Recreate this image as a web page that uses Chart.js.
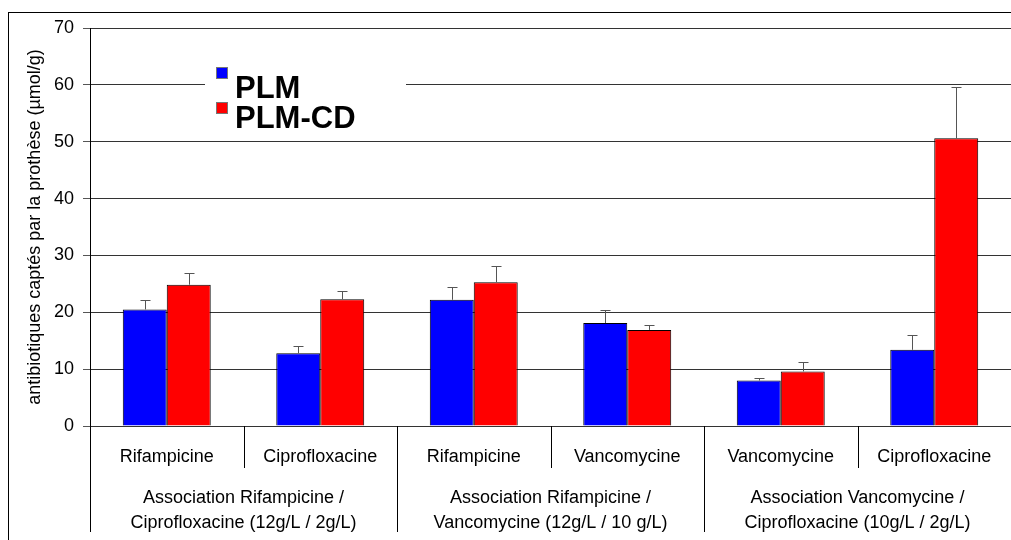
<!DOCTYPE html>
<html>
<head>
<meta charset="utf-8">
<script src="https://cdn.jsdelivr.net/npm/chart.js@4/dist/chart.umd.min.js"></script>
<style>
    html, body { margin: 0; padding: 0; background: #fff; }
    #wrap { width: 1011px; height: 540px; position: relative; }
</style>
</head>
<body>
<div id="wrap"><canvas id="chart"></canvas></div>
<script>
const categories = ["Rifampicine", "Ciprofloxacine", "Rifampicine", "Vancomycine", "Vancomycine", "Ciprofloxacine"];
const groupLabels = [
    ["Association Rifampicine /", "Ciprofloxacine (12g/L / 2g/L)"],
    ["Association Rifampicine /", "Vancomycine (12g/L / 10 g/L)"],
    ["Association Vancomycine /", "Ciprofloxacine (10g/L / 2g/L)"],
];
const plmValues = [20.5, 12.8, 22.2, 18.1, 8.0, 13.4];
const plmErrors = [1.7, 1.2, 2.3, 2.3, 0.5, 2.6];
const plmCdValues = [24.85, 22.3, 25.3, 16.9, 9.6, 50.6];
const plmCdErrors = [2.0, 1.4, 2.9, 0.9, 1.7, 9.1];
const yTicks = [0, 10, 20, 30, 40, 50, 60, 70];

const FONT = "'Liberation Sans', Arial, sans-serif";

const frame = {
    id: "frame",
    beforeDraw(chart) {
        const ctx = chart.ctx;
        ctx.save();
        ctx.fillStyle = "#fff";
        ctx.fillRect(0, 0, chart.width, chart.height);
        ctx.strokeStyle = "#000";
        ctx.lineWidth = 1;
        ctx.strokeRect(8.5, 12.5, chart.width + 10, chart.height + 10);
        ctx.restore();
    },
};

const errorBars = {
    id: "errorBars",
    afterDatasetsDraw(chart) {
        const ctx = chart.ctx;
        const y = chart.scales.y;
        const errs = [plmErrors, plmCdErrors];
        ctx.save();
        ctx.strokeStyle = "#555";
        ctx.lineWidth = 1;
        chart.data.datasets.forEach((ds, d) => {
            chart.getDatasetMeta(d).data.forEach((bar, i) => {
                const x = Math.round(bar.x) + 0.5;
                const top = Math.round(y.getPixelForValue(ds.data[i] + errs[d][i])) + 0.5;
                ctx.beginPath();
                ctx.moveTo(x, bar.y);
                ctx.lineTo(x, top);
                ctx.moveTo(x - 5, top);
                ctx.lineTo(x + 5, top);
                ctx.stroke();
            });
        });
        ctx.restore();
    },
};

const legendBox = {
    id: "legendBox",
    afterDatasetsDraw(chart) {
        const ctx = chart.ctx;
        ctx.save();
        ctx.fillStyle = "#fff";
        ctx.fillRect(205, 62, 201, 72);
        ctx.font = "bold 31px " + FONT;
        ctx.textBaseline = "alphabetic";
        chart.data.datasets.forEach((ds, d) => {
            const top = 67 + d * 35;
            ctx.fillStyle = ds.backgroundColor;
            ctx.fillRect(216, top, 12, 12);
            ctx.strokeStyle = "#777";
            ctx.strokeRect(216.5, top + 0.5, 11, 11);
            ctx.fillStyle = "#000";
            ctx.fillText(ds.label, 235, 98 + d * 30);
        });
        ctx.restore();
    },
};

const xLabels = {
    id: "xLabels",
    afterDraw(chart) {
        const ctx = chart.ctx;
        const xs = chart.scales.x;
        const area = chart.chartArea;
        const n = categories.length;
        const step = xs.getPixelForValue(1) - xs.getPixelForValue(0);
        ctx.save();
        ctx.strokeStyle = "#000";
        ctx.lineWidth = 1;
        for (let i = 0; i <= n; i++) {
            const bx = Math.round(xs.getPixelForValue(i) - step / 2) + 0.5;
            if (bx > chart.width) continue;
            const long = i % 2 === 0;
            ctx.beginPath();
            ctx.moveTo(bx, area.bottom);
            ctx.lineTo(bx, area.bottom + (long ? 106 : 42));
            ctx.stroke();
        }
        ctx.fillStyle = "#000";
        ctx.font = "18px " + FONT;
        ctx.textAlign = "center";
        ctx.textBaseline = "alphabetic";
        categories.forEach((c, i) => {
            ctx.fillText(c, xs.getPixelForValue(i), area.bottom + 36);
        });
        groupLabels.forEach((lines, g) => {
            const cx = (xs.getPixelForValue(g * 2) + xs.getPixelForValue(g * 2 + 1)) / 2;
            lines.forEach((t, k) => {
                ctx.fillText(t, cx, area.bottom + 77 + k * 25);
            });
        });
        ctx.restore();
    },
};

new Chart(document.getElementById("chart"), {
    type: "bar",
    data: {
        labels: categories,
        datasets: [
            {
                label: "PLM",
                data: plmValues,
                backgroundColor: "#0000ff",
                borderColor: "#000",
                borderWidth: 1,
                categoryPercentage: 0.573,
                barPercentage: 1,
            },
            {
                label: "PLM-CD",
                data: plmCdValues,
                backgroundColor: "#ff0000",
                borderColor: "#000",
                borderWidth: 1,
                categoryPercentage: 0.573,
                barPercentage: 1,
            },
        ],
    },
    options: {
        responsive: true,
        maintainAspectRatio: false,
        animation: false,
        layout: { padding: { top: 28, bottom: 114, left: 0, right: 0 } },
        plugins: {
            legend: { display: false },
            tooltip: { enabled: false },
        },
        scales: {
            x: { display: false },
            y: {
                min: 0,
                max: 70,
                afterFit: (scale) => { scale.width = 90; },
                afterBuildTicks: (scale) => {
                    scale.ticks = yTicks.map((v) => ({ value: v }));
                },
                border: { color: "#000", width: 1 },
                grid: { color: "#333", tickLength: 7, tickColor: "#555" },
                ticks: {
                    padding: 9,
                    color: "#000",
                    font: { family: FONT, size: 18 },
                },
                title: {
                    display: true,
                    text: "antibiotiques captés par la prothèse (µmol/g)",
                    color: "#000",
                    font: { family: FONT, size: 18 },
                    padding: { top: 24, bottom: 0 },
                },
            },
        },
    },
    plugins: [frame, errorBars, legendBox, xLabels],
});
</script>
</body>
</html>
